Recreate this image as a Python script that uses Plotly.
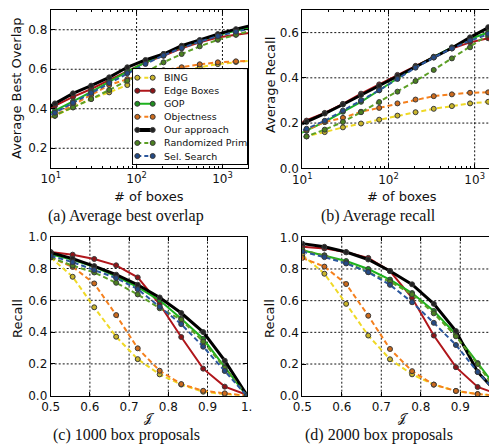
import plotly.graph_objects as go

# ---------------- data ----------------
methods = ["BING", "Edge Boxes", "GOP", "Objectness", "Our approach", "Randomized Prim", "Sel. Search"]

boxes = [6.9, 11.2, 18.2, 29.6, 48, 78, 127, 206, 335, 544, 884, 1436, 2333]
abo = {
    "BING":            [0.33, 0.365, 0.407, 0.45, 0.483, 0.52, 0.55, 0.57, 0.59, 0.61, 0.626, 0.637, 0.645],
    "Edge Boxes":      [0.37, 0.415, 0.46, 0.50, 0.545, 0.593, 0.635, 0.668, 0.706, 0.736, 0.761, 0.775, 0.787],
    "GOP":             [0.345, 0.39, 0.437, 0.486, 0.537, 0.588, 0.635, 0.677, 0.714, 0.744, 0.773, 0.795, 0.815],
    "Objectness":      [0.32, 0.365, 0.42, 0.47, 0.52, 0.55, 0.575, 0.595, 0.61, 0.625, 0.635, 0.64, 0.644],
    "Our approach":    [0.376, 0.427, 0.478, 0.517, 0.559, 0.61, 0.647, 0.677, 0.719, 0.748, 0.778, 0.803, 0.825],
    "Randomized Prim": [0.325, 0.365, 0.407, 0.449, 0.495, 0.542, 0.584, 0.635, 0.677, 0.716, 0.749, 0.775, 0.80],
    "Sel. Search":     [0.335, 0.38, 0.43, 0.48, 0.53, 0.58, 0.627, 0.67, 0.708, 0.74, 0.768, 0.79, 0.81],
}
ar = {
    "BING":            [0.125, 0.141, 0.16, 0.181, 0.198, 0.215, 0.233, 0.248, 0.263, 0.275, 0.287, 0.294, 0.30],
    "Edge Boxes":      [0.18, 0.211, 0.245, 0.285, 0.33, 0.371, 0.413, 0.453, 0.493, 0.53, 0.557, 0.575, 0.585],
    "GOP":             [0.13, 0.166, 0.205, 0.25, 0.294, 0.345, 0.398, 0.449, 0.493, 0.535, 0.572, 0.602, 0.63],
    "Objectness":      [0.14, 0.17, 0.205, 0.223, 0.25, 0.267, 0.287, 0.304, 0.319, 0.327, 0.334, 0.336, 0.338],
    "Our approach":    [0.17, 0.205, 0.242, 0.282, 0.324, 0.364, 0.408, 0.449, 0.49, 0.532, 0.579, 0.624, 0.665],
    "Randomized Prim": [0.115, 0.141, 0.171, 0.205, 0.248, 0.293, 0.339, 0.386, 0.435, 0.486, 0.535, 0.59, 0.635],
    "Sel. Search":     [0.14, 0.175, 0.21, 0.255, 0.30, 0.345, 0.395, 0.445, 0.49, 0.53, 0.565, 0.595, 0.62],
}

iou = [0.5, 0.556, 0.611, 0.667, 0.722, 0.778, 0.833, 0.889, 0.944, 1.0]
recall_1000 = {
    "BING":            [0.87, 0.748, 0.556, 0.371, 0.23, 0.134, 0.07, 0.025, 0.01, 0.0],
    "Edge Boxes":      [0.904, 0.887, 0.86, 0.82, 0.744, 0.575, 0.369, 0.17, 0.057, 0.006],
    "GOP":             [0.89, 0.855, 0.81, 0.75, 0.683, 0.60, 0.484, 0.358, 0.18, 0.0],
    "Objectness":      [0.87, 0.81, 0.706, 0.507, 0.298, 0.157, 0.073, 0.031, 0.015, 0.0],
    "Our approach":    [0.90, 0.862, 0.815, 0.761, 0.698, 0.618, 0.52, 0.40, 0.22, 0.006],
    "Randomized Prim": [0.87, 0.818, 0.775, 0.71, 0.637, 0.55, 0.478, 0.34, 0.175, 0.0],
    "Sel. Search":     [0.88, 0.84, 0.79, 0.74, 0.67, 0.56, 0.45, 0.308, 0.155, 0.0],
}
recall_2000 = {
    "BING":            [0.89, 0.77, 0.58, 0.38, 0.23, 0.135, 0.07, 0.03, 0.01, 0.0],
    "Edge Boxes":      [0.94, 0.93, 0.905, 0.87, 0.787, 0.617, 0.38, 0.18, 0.055, 0.006],
    "GOP":             [0.918, 0.886, 0.85, 0.80, 0.733, 0.648, 0.535, 0.387, 0.206, 0.023],
    "Objectness":      [0.87, 0.815, 0.705, 0.505, 0.295, 0.155, 0.07, 0.03, 0.01, 0.0],
    "Our approach":    [0.96, 0.94, 0.907, 0.86, 0.787, 0.703, 0.58, 0.408, 0.15, 0.0],
    "Randomized Prim": [0.92, 0.885, 0.84, 0.78, 0.72, 0.64, 0.52, 0.375, 0.20, 0.0],
    "Sel. Search":     [0.91, 0.875, 0.835, 0.78, 0.70, 0.59, 0.46, 0.32, 0.15, 0.0],
}

captions = ["(a) Average best overlap", "(b) Average recall", "(c) 1000 box proposals", "(d) 2000 box proposals"]
ytitles = ["Average Best Overlap", "Average Recall", "Recall", "Recall"]
xtitles = ["# of boxes", "# of boxes", "\U0001D4A5", "\U0001D4A5"]

log_ticks = [10, 100, 1000]
log_ticktext = ["10<sup>1</sup>", "10<sup>2</sup>", "10<sup>3</sup>"]
iou_ticks = [0.5, 0.6, 0.7, 0.8, 0.9, 1.0]
iou_ticktext = ["0.5", "0.6", "0.7", "0.8", "0.9", "1."]
y_ticks = [[0.2, 0.4, 0.6, 0.8], [0.0, 0.2, 0.4, 0.6], [0.0, 0.2, 0.4, 0.6, 0.8, 1.0], [0.0, 0.2, 0.4, 0.6, 0.8, 1.0]]

# ---------------- styles ----------------
W, H = 497, 444
OFF = 8  # page body margin of the rendered html
style = {
    "BING":            dict(color="#efd926", mcolor="#c9b52a", dash="5px,3px", width=2),
    "Edge Boxes":      dict(color="#b0161b", mcolor="#8e1418", dash="solid", width=2),
    "GOP":             dict(color="#1db31d", mcolor="#1f8e1f", dash="solid", width=2),
    "Objectness":      dict(color="#f5801e", mcolor="#cc6a1c", dash="5px,3px", width=2),
    "Our approach":    dict(color="#000000", mcolor="#222222", dash="solid", width=3),
    "Randomized Prim": dict(color="#5c9f25", mcolor="#4b8020", dash="5px,3px", width=2),
    "Sel. Search":     dict(color="#2b579e", mcolor="#244a85", dash="5px,3px", width=2),
}
SANS = "DejaVu Sans"
SERIF = "Liberation Serif"

def px_x(p):
    return (p - OFF) / W

def px_y(p):
    return 1 - (p - OFF) / H

# panel boxes in page pixels: left, right, top, bottom
boxes_px = [
    (50.7, 248.3, 10.0, 168.0),
    (302.3, 497.0, 10.0, 168.3),
    (50.7, 246.7, 236.7, 395.7),
    (302.3, 497.0, 237.3, 395.7),
]

fig = go.Figure()

panel_data = [(boxes, abo), (boxes, ar), (iou, recall_1000), (iou, recall_2000)]
for k, (xs, dd) in enumerate(panel_data):
    ax = "" if k == 0 else str(k + 1)
    for m in methods:
        s = style[m]
        fig.add_trace(go.Scatter(
            x=xs, y=dd[m], mode="lines+markers", name=m, showlegend=False,
            xaxis="x" + ax, yaxis="y" + ax, hoverinfo="skip",
            line=dict(color=s["color"], width=s["width"], dash=s["dash"]),
            marker=dict(symbol="circle", size=5, color=s["mcolor"],
                        line=dict(color="#3a3a3a", width=1)),
        ))

axis_common = dict(
    showline=True, linecolor="black", linewidth=1, automargin=False,
    ticks="inside", ticklen=4, tickcolor="black", tickwidth=1,
    showgrid=False, zeroline=False, tickfont=dict(family=SANS, size=12, color="#111"),
)

minor_vals = [b * 10 ** e for e in (1, 2, 3) for b in range(2, 10)]
xranges = [[1, 3.301], [1, 3.259], [0.5, 1.0], [0.5, 0.993]]
yranges = [[0.1, 0.9], [0.0, 0.7], [0.0, 1.0], [0.0, 1.0]]

layout = dict(
    template="none",
    width=W, height=H, margin=dict(l=0, r=0, t=0, b=0, pad=0), autosize=False,
    paper_bgcolor="white", plot_bgcolor="white", showlegend=False,
)
shapes = []
grid_line = dict(color="#111111", width=1, dash="2px,2px")
for k in range(4):
    l, r, t, b = boxes_px[k]
    ax = "" if k == 0 else str(k + 1)
    xa = dict(axis_common, domain=[px_x(l), px_x(r)], anchor="y" + ax,
              range=xranges[k], mirror="ticks")
    ya = dict(axis_common, domain=[px_y(b), px_y(t)], anchor="x" + ax,
              range=yranges[k], mirror="ticks" if k in (0, 2) else False,
              tickmode="array", tickvals=y_ticks[k],
              ticktext=["%.1f" % v for v in y_ticks[k]])
    if k < 2:
        xt = log_ticks
        xa.update(type="log", tickmode="array", tickvals=log_ticks, ticktext=log_ticktext,
                  minor=dict(tickmode="array", tickvals=minor_vals, ticks="inside",
                             ticklen=2, tickcolor="black", showgrid=False))
        xlo, xhi = 10 ** xranges[k][0], 10 ** xranges[k][1]
    else:
        xt = iou_ticks
        xa.update(tickmode="array", tickvals=iou_ticks, ticktext=iou_ticktext)
        xlo, xhi = xranges[k]
    layout["xaxis" + ax] = xa
    layout["yaxis" + ax] = ya
    # dotted grid at the interior tick positions
    for v in xt:
        if xlo * 1.0001 < v < xhi * 0.9999:
            shapes.append(dict(type="line", xref="x" + ax, yref="y" + ax + " domain",
                               x0=v, x1=v, y0=0, y1=1, layer="below", line=grid_line))
    for v in y_ticks[k]:
        if yranges[k][0] + 1e-6 < v < yranges[k][1] - 1e-6:
            shapes.append(dict(type="line", xref="x" + ax + " domain", yref="y" + ax,
                               x0=0, x1=1, y0=v, y1=v, layer="below", line=grid_line))

# ---------------- legend (panel a) drawn as its own small axis ----------------
LG = (133.3, 247.3, 69.3, 163.7)
lg_w, lg_h = LG[1] - LG[0], LG[3] - LG[2]
layout["xaxis5"] = dict(domain=[px_x(LG[0]), px_x(LG[1])], range=[0, lg_w], anchor="y5",
                        showline=True, mirror=True, linecolor="black", linewidth=1, automargin=False,
                        showgrid=False, zeroline=False, showticklabels=False, ticks="")
layout["yaxis5"] = dict(domain=[px_y(LG[3]), px_y(LG[2])], range=[lg_h, 0], anchor="x5",
                        showline=True, mirror=True, linecolor="black", linewidth=1, automargin=False,
                        showgrid=False, zeroline=False, showticklabels=False, ticks="")
fig.add_trace(go.Scatter(x=[0, lg_w, lg_w, 0, 0], y=[0, 0, lg_h, lg_h, 0], fill="toself",
                         fillcolor="white", line=dict(width=0), mode="lines",
                         xaxis="x5", yaxis="y5", hoverinfo="skip", showlegend=False))
row0, row_gap = 8.4, 13.05
annotations = []
for i, m in enumerate(methods):
    s = style[m]
    yy = row0 + row_gap * i
    fig.add_trace(go.Scatter(
        x=[4, 19.4], y=[yy, yy], mode="lines+markers", xaxis="x5", yaxis="y5",
        hoverinfo="skip", showlegend=False,
        line=dict(color=s["color"], width=s["width"] + (1 if m == "Our approach" else 0),
                  dash="4px,3px" if s["dash"] != "solid" else "solid"),
        marker=dict(symbol="circle", size=5, color=s["mcolor"], line=dict(color="#3a3a3a", width=1)),
    ))
    annotations.append(dict(x=29, y=yy, xref="x5", yref="y5", text=m, showarrow=False,
                            xanchor="left", yanchor="middle",
                            font=dict(family=SANS, size=9.5, color="#111")))

# ---------------- titles & captions ----------------
ytitle_pos = [(17, 88), (270, 85), (17, 319), (269, 319)]
xtitle_pos = [(149, 196), (402, 196), (149, 418), (403, 418)]
caption_pos = [(126, 216), (378, 216), (126, 435), (379, 435)]
for k in range(4):
    x0, y0 = ytitle_pos[k]
    annotations.append(dict(x=px_x(x0), y=px_y(y0), xref="paper", yref="paper", text=ytitles[k],
                            showarrow=False, textangle=-90, xanchor="center", yanchor="middle",
                            font=dict(family=SANS, size=13, color="#111")))
    x0, y0 = xtitle_pos[k]
    annotations.append(dict(x=px_x(x0), y=px_y(y0), xref="paper", yref="paper", text=xtitles[k],
                            showarrow=False, xanchor="center", yanchor="middle",
                            font=dict(family=SANS if k < 2 else "DejaVu Serif, DejaVu Sans, Noto Sans",
                                      size=13 if k < 2 else 12, color="#111")))
    x0, y0 = caption_pos[k]
    annotations.append(dict(x=px_x(x0), y=px_y(y0), xref="paper", yref="paper", text=captions[k],
                            showarrow=False, xanchor="center", yanchor="middle",
                            font=dict(family=SERIF, size=16, color="#111")))

layout["annotations"] = annotations
layout["shapes"] = shapes
fig.update_layout(**layout)
fig.write_html("out.html")
